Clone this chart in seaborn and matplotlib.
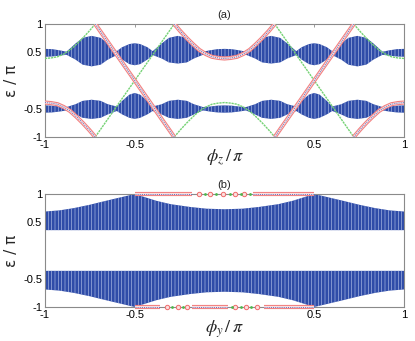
import matplotlib
matplotlib.use("Agg")
import matplotlib.pyplot as plt
import seaborn as sns

# ---------------- data ----------------
# panel (a): bulk bands vs phi_z/pi
xa = [-1.00, -0.96, -0.92, -0.88, -0.83, -0.79, -0.74, -0.69, -0.65, -0.60, -0.57, -0.53, -0.50,
      -0.47, -0.43, -0.40, -0.35, -0.31, -0.26, -0.21, -0.17, -0.12, -0.08, -0.04, 0.00,
      0.04, 0.08, 0.12, 0.17, 0.21, 0.26, 0.31, 0.35, 0.40, 0.43, 0.47, 0.50,
      0.53, 0.57, 0.60, 0.65, 0.69, 0.74, 0.79, 0.83, 0.88, 0.92, 0.96, 1.00]
up_hi = [0.56, 0.555, 0.535, 0.51, 0.655, 0.755, 0.79, 0.755, 0.655, 0.52, 0.59, 0.645, 0.66,
         0.645, 0.59, 0.52, 0.655, 0.755, 0.79, 0.755, 0.655, 0.51, 0.535, 0.555, 0.56,
         0.555, 0.535, 0.51, 0.655, 0.755, 0.79, 0.755, 0.655, 0.52, 0.59, 0.645, 0.66,
         0.645, 0.59, 0.52, 0.655, 0.755, 0.79, 0.755, 0.655, 0.51, 0.535, 0.555, 0.56]
up_lo = [0.42, 0.425, 0.44, 0.455, 0.37, 0.28, 0.25, 0.28, 0.37, 0.45, 0.37, 0.29, 0.27,
         0.29, 0.37, 0.45, 0.39, 0.32, 0.30, 0.32, 0.39, 0.455, 0.44, 0.425, 0.42,
         0.425, 0.44, 0.455, 0.39, 0.32, 0.30, 0.32, 0.39, 0.45, 0.37, 0.29, 0.27,
         0.29, 0.37, 0.45, 0.37, 0.28, 0.25, 0.28, 0.37, 0.455, 0.44, 0.425, 0.42]
dn_hi = [-0.44, -0.445, -0.46, -0.47, -0.42, -0.36, -0.34, -0.36, -0.42, -0.46, -0.36, -0.25, -0.22,
         -0.25, -0.36, -0.46, -0.42, -0.36, -0.34, -0.36, -0.42, -0.47, -0.46, -0.445, -0.44,
         -0.445, -0.46, -0.47, -0.42, -0.36, -0.34, -0.36, -0.42, -0.46, -0.36, -0.25, -0.22,
         -0.25, -0.36, -0.46, -0.42, -0.36, -0.34, -0.36, -0.42, -0.47, -0.46, -0.445, -0.44]
dn_lo = [-0.57, -0.565, -0.55, -0.53, -0.60, -0.66, -0.68, -0.66, -0.60, -0.54, -0.60, -0.66, -0.68,
         -0.66, -0.60, -0.54, -0.60, -0.66, -0.68, -0.66, -0.60, -0.53, -0.55, -0.565, -0.57,
         -0.565, -0.55, -0.53, -0.60, -0.66, -0.68, -0.66, -0.60, -0.54, -0.60, -0.66, -0.68,
         -0.66, -0.60, -0.54, -0.60, -0.66, -0.68, -0.66, -0.60, -0.53, -0.55, -0.565, -0.57]

# panel (a): edge states
red_mid_x = [-0.28, -0.245, -0.21, -0.175, -0.14, -0.105, -0.07, -0.035, 0.0,
             0.035, 0.07, 0.105, 0.14, 0.175, 0.21, 0.245, 0.28]
red_mid_y = [1.0, 0.87, 0.75, 0.64, 0.54, 0.47, 0.42, 0.40, 0.39,
             0.40, 0.42, 0.47, 0.54, 0.64, 0.75, 0.87, 1.0]
grn_mid_y = [-1.0, -0.87, -0.75, -0.64, -0.54, -0.47, -0.42, -0.40, -0.39,
             -0.40, -0.42, -0.47, -0.54, -0.64, -0.75, -0.87, -1.0]
outL_x = [-1.0, -0.965, -0.93, -0.895, -0.86, -0.825, -0.79, -0.755, -0.72]
outR_x = [0.72, 0.755, 0.79, 0.825, 0.86, 0.895, 0.93, 0.965, 1.0]
red_outL_y = [-0.39, -0.40, -0.42, -0.47, -0.54, -0.64, -0.75, -0.87, -1.0]
red_outR_y = [-1.0, -0.87, -0.75, -0.64, -0.54, -0.47, -0.42, -0.40, -0.39]
grn_outL_y = [0.39, 0.40, 0.42, 0.47, 0.54, 0.64, 0.75, 0.87, 1.0]
grn_outR_y = [1.0, 0.87, 0.75, 0.64, 0.54, 0.47, 0.42, 0.40, 0.39]
diagL_x = [-0.72, -0.28]
diagR_x = [0.28, 0.72]
red_diagL_y = [1.0, -1.0]
red_diagR_y = [-1.0, 1.0]
grn_diagL_y = [-1.0, 1.0]
grn_diagR_y = [1.0, -1.0]

# panel (b): bulk bands vs phi_y/pi
xb = [-1.0, -0.92, -0.84, -0.75, -0.66, -0.58, -0.5, -0.44, -0.38, -0.3, -0.19, -0.1, 0.0,
      0.1, 0.19, 0.3, 0.38, 0.44, 0.5, 0.58, 0.66, 0.75, 0.84, 0.92, 1.0]
ub_hi = [0.69, 0.71, 0.75, 0.81, 0.88, 0.94, 1.0, 0.94, 0.88, 0.82, 0.77, 0.74, 0.73,
         0.74, 0.77, 0.82, 0.88, 0.94, 1.0, 0.94, 0.88, 0.81, 0.75, 0.71, 0.69]
ub_lo = [0.36] * 25
lb_hi = [-0.36] * 25
lb_lo = [-0.69, -0.71, -0.75, -0.81, -0.88, -0.94, -1.0, -0.94, -0.88, -0.82, -0.77, -0.74, -0.73,
         -0.74, -0.77, -0.82, -0.88, -0.94, -1.0, -0.94, -0.88, -0.81, -0.75, -0.71, -0.69]

# panel (b): edge states on eps = +-pi
top_dense = [([-0.5, -0.18], [1.0, 1.0]), ([0.16, 0.5], [1.0, 1.0])]
bot_dense = [([-0.5, -0.36], [-1.0, -1.0]), ([-0.18, 0.02], [-1.0, -1.0]), ([0.22, 0.5], [-1.0, -1.0])]
top_sparse_red = [-0.14, -0.08, -0.01, 0.06, 0.11]
top_sparse_grn = [-0.11, -0.05, 0.03, 0.09, 0.14]
bot_sparse_red = [-0.32, -0.26, -0.21, 0.06, 0.12, 0.18]
bot_sparse_grn = [-0.29, -0.23, 0.04, 0.09, 0.15]

xticks = [-1, -0.5, 0.5, 1]
xticklabels = ["-1", "-0.5", "0.5", "1"]
yticks = [-1, -0.5, 0.5, 1]
yticklabels = ["-1", "-0.5", "0.5", "1"]

# ---------------- style ----------------
sns.set_theme(style="white")
plt.rcParams["font.family"] = ["Liberation Sans", "DejaVu Sans"]
plt.rcParams["mathtext.fontset"] = "stix"
plt.rcParams["hatch.linewidth"] = 0.45

BAND = "#2f4ca8"
HATCH = "#aebde6"
SPINE = "#8a8a8a"

fig = plt.figure(figsize=(4.15, 3.41), dpi=100)
ax1 = fig.add_axes([0.1084, 0.5982, 0.8651, 0.3314])
ax2 = fig.add_axes([0.1084, 0.0997, 0.8651, 0.3314])


def band(ax, x, lo, hi):
    ax.fill_between(x, lo, hi, facecolor=BAND, edgecolor=HATCH, hatch="|||||",
                    linewidth=0, zorder=1)


def red_edge(ax, x, y, clip=True):
    for col, lw, ls in (("#f27f7f", 3.0, "-"), ("#fbdede", 1.5, "-"), ("#5a72c4", 0.7, (0, (1, 1.2)))):
        sns.lineplot(x=x, y=y, ax=ax, color=col, lw=lw, ls=ls, sort=False, estimator=None,
                     legend=False, clip_on=clip, zorder=4, solid_capstyle="butt")


def green_edge(ax, x, y):
    sns.lineplot(x=x, y=y, ax=ax, color="#74d274", lw=1.0, ls=(0, (1.6, 0.6)), sort=False,
                 estimator=None, legend=False, zorder=3)


# ---- panel (a)
band(ax1, xa, up_lo, up_hi)
band(ax1, xa, dn_lo, dn_hi)
green_edge(ax1, outL_x, grn_outL_y)
green_edge(ax1, diagL_x, grn_diagL_y)
green_edge(ax1, red_mid_x, grn_mid_y)
green_edge(ax1, diagR_x, grn_diagR_y)
green_edge(ax1, outR_x, grn_outR_y)
red_edge(ax1, outL_x, red_outL_y)
red_edge(ax1, diagL_x, red_diagL_y)
red_edge(ax1, red_mid_x, red_mid_y)
red_edge(ax1, diagR_x, red_diagR_y)
red_edge(ax1, outR_x, red_outR_y)

# ---- panel (b)
band(ax2, xb, ub_lo, ub_hi)
band(ax2, xb, lb_lo, lb_hi)
for xs, ys in top_dense + bot_dense:
    red_edge(ax2, xs, ys, clip=False)
for xs, yv in ((top_sparse_red, 1.0), (bot_sparse_red, -1.0)):
    sns.scatterplot(x=xs, y=[yv] * len(xs), ax=ax2, marker="o", s=10, facecolors="#fbdede",
                    edgecolor="#f06a6a", linewidth=0.7, clip_on=False, zorder=5, legend=False)
for xs, yv in ((top_sparse_grn, 1.0), (bot_sparse_grn, -1.0)):
    sns.scatterplot(x=xs, y=[yv] * len(xs), ax=ax2, marker="o", s=4, color="#4cb84c",
                    linewidth=0, clip_on=False, zorder=5, legend=False)

# ---- axes cosmetics
for ax, lab, ttl in ((ax1, r"$\phi_{z}\,/\,\pi$", "(a)"), (ax2, r"$\phi_{y}\,/\,\pi$", "(b)")):
    ax.set_xlim(-1, 1)
    ax.set_ylim(-1, 1)
    ax.set_xticks(xticks)
    ax.set_xticklabels(xticklabels)
    ax.set_yticks(yticks)
    ax.set_yticklabels(yticklabels)
    ax.tick_params(direction="in", top=True, right=True, length=2.5, width=0.6,
                   color=SPINE, labelsize=8, pad=2, labelcolor="black")
    for s in ax.spines.values():
        s.set_color(SPINE)
        s.set_linewidth(0.8)
        s.set_zorder(2)
    ax.set_xlabel(lab, fontsize=13, labelpad=-1)
    ax.set_ylabel("ε / π", fontsize=11, labelpad=3, family=["DejaVu Sans"])
    ax.set_title(ttl, fontsize=8, pad=4)
    ax.grid(False)

fig.savefig("out.png", dpi=100)
